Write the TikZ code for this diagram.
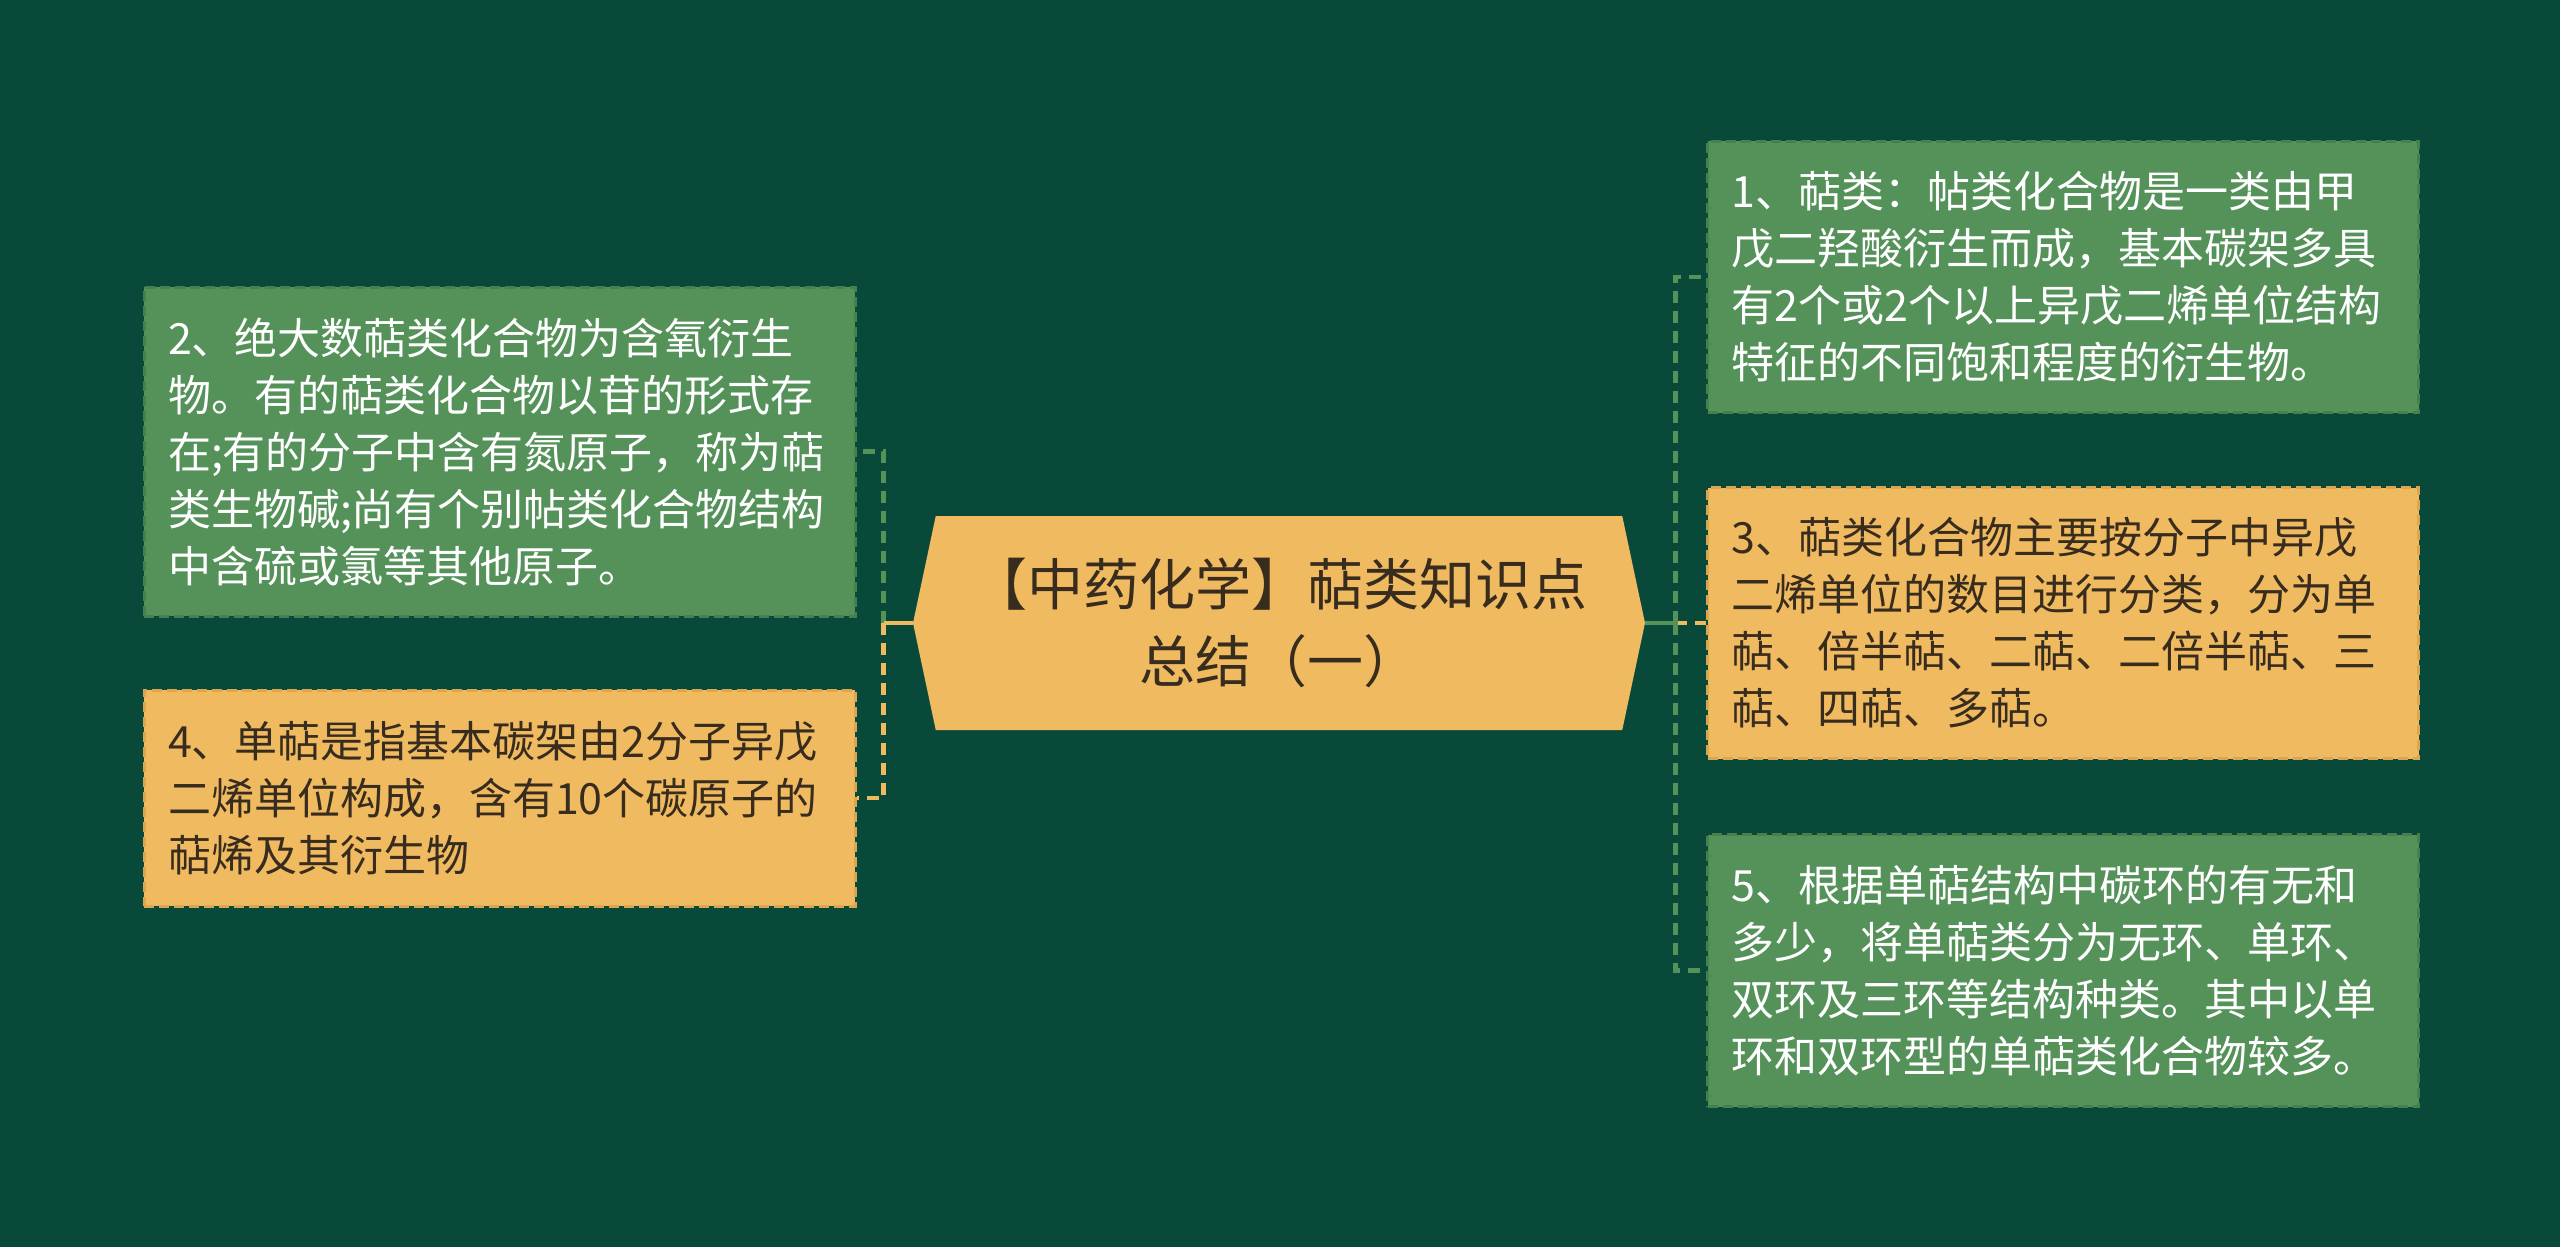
\documentclass[tikz,border=0pt]{standalone}
\usepackage{fontspec}
\setmainfont{Noto Sans CJK SC}
\usetikzlibrary{shapes,positioning}

\definecolor{bgdark}{RGB}{9,73,57}
\definecolor{leaf}{RGB}{84,146,90}
\definecolor{leafedge}{RGB}{70,128,78}
\definecolor{sand}{RGB}{240,187,96}
\definecolor{sandedge}{RGB}{220,166,80}
\definecolor{ink}{RGB}{56,44,30}

\begin{document}
\begin{tikzpicture}[x=0.5pt,y=-0.5pt,
    title node/.style={signal,signal to=west and east,signal pointer angle=156,
      fill=sand,text=ink,font=\fontsize{28pt}{38.5pt}\selectfont,
      minimum width=366pt,minimum height=107pt,text width=330pt,align=center,inner sep=0pt},
    topic node/.style={rectangle,draw,line width=1.5pt,dash pattern=on 5pt off 2.5pt,
      minimum width=355.5pt,text width=331.5pt,inner xsep=12pt,inner ysep=0pt,align=left,
      font=\fontsize{21.5pt}{28.5pt}\selectfont},
    green node/.style={topic node,fill=leaf,draw=leafedge,text=white},
    sand node/.style={topic node,fill=sand,draw=sandedge,text=ink},
    stub/.style={line width=2.4pt},
    link/.style={line width=2.4pt,dash pattern=on 6pt off 4pt}
  ]
  \fill[bgdark] (0,0) rectangle (2560,1247);

  \node[title node] (hex) at (1279,623) {【中药化学】萜类知识点\\总结（一）};

  % right column
  \node[sand node, minimum height=135.5pt] (terp3) [right=30.5pt of hex]
    {3、萜类化合物主要按分子中异戊\\二烯单位的数目进行分类，分为单\\萜、倍半萜、二萜、二倍半萜、三\\萜、四萜、多萜。};
  \node[green node, minimum height=135.5pt] (terp1) [above=36pt of terp3]
    {1、萜类：帖类化合物是一类由甲\\戊二羟酸衍生而成，基本碳架多具\\有2个或2个以上异戊二烯单位结构\\特征的不同饱和程度的衍生物。};
  \node[green node, minimum height=136pt] (terp5) [below=36.5pt of terp3]
    {5、根据单萜结构中碳环的有无和\\多少，将单萜类分为无环、单环、\\双环及三环等结构种类。其中以单\\环和双环型的单萜类化合物较多。};

  % left column
  \node[green node, minimum height=164.5pt] (terp2) at (499.5,451.5)
    {2、绝大数萜类化合物为含氧衍生\\物。有的萜类化合物以苷的形式存\\在;有的分子中含有氮原子，称为萜\\类生物碱;尚有个别帖类化合物结构\\中含硫或氯等其他原子。};
  \node[sand node, minimum height=108pt] (terp4) [below=35.5pt of terp2]
    {4、单萜是指基本碳架由2分子异戊\\二烯单位构成，含有10个碳原子的\\萜烯及其衍生物};

  \coordinate (ltrunk) at ([xshift=-14.5pt]hex.west);
  \coordinate (rtrunk) at ([xshift=15pt]hex.east);

  \draw[link, leaf] (ltrunk) |- (terp2.east);
  \draw[link, sand] (ltrunk) |- (terp4.east);
  \draw[stub, sand] (hex.west) -- (ltrunk);

  \draw[link, sand] (rtrunk) -- (terp3.west);
  \draw[stub, leaf] (hex.east) -- (rtrunk);
  \draw[link, leaf] (rtrunk) |- (terp1.west);
  \draw[link, leaf] (rtrunk) |- (terp5.west);
\end{tikzpicture}
\end{document}
